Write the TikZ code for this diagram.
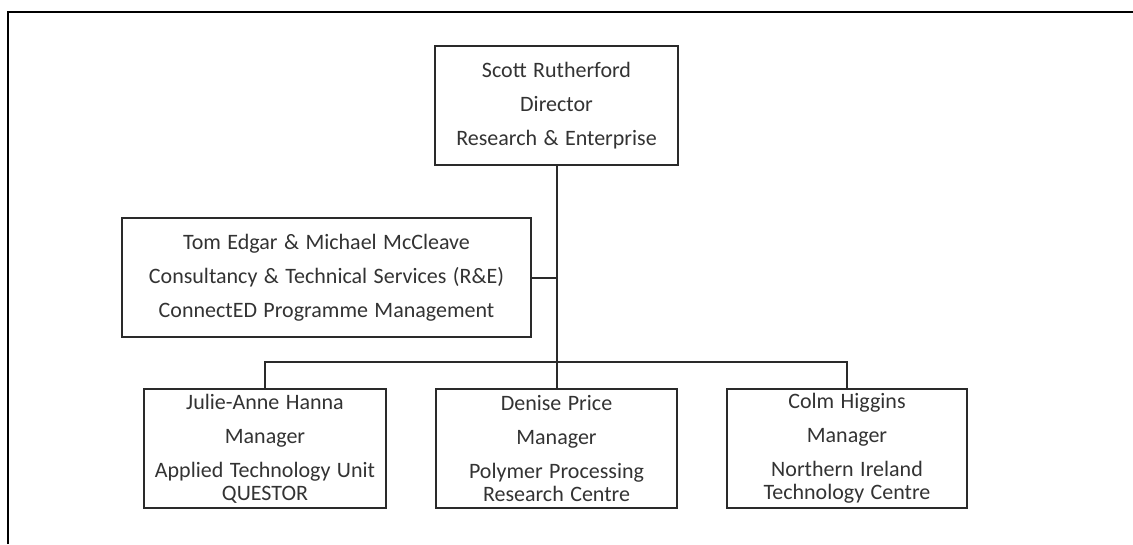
\documentclass[tikz,border=0pt]{standalone}
\usepackage{fontspec}
\setmainfont{Carlito}[WordSpace=1.3]
\definecolor{boxline}{HTML}{2A2A2A}
\definecolor{txt}{HTML}{333333}
\tikzset{
  orgbox/.style={draw=boxline, line width=2pt, fill=white, inner sep=0pt,
    align=center, text=txt, font=\fontsize{22}{34}\selectfont},
  link/.style={draw=boxline, line width=2pt},
  frame/.style={draw=black, line width=2.6pt}
}
\begin{document}
\begin{tikzpicture}[x=1pt,y=-1pt]
\useasboundingbox (0,0) rectangle (1133,544);
\coordinate (fa) at (8,544);
\coordinate (fb) at (8,12);
\coordinate (fc) at (1133,12);
\draw[frame] (fa) -- (fb) -- (fc);
\node[orgbox, minimum width=243pt, minimum height=119pt] (top) at (556.5,105.5)
  {Scott Rutherford\\Director\\Research \& Enterprise};
\node[orgbox, minimum width=409pt, minimum height=119pt] (mid) at (326.5,277.5)
  {Tom Edgar \& Michael McCleave\\Consultancy \& Technical Services (R\&E)\\ConnectED Programme Management};
\node[orgbox, minimum width=242pt, minimum height=119pt] (julie) at (265,448.5)
  {Julie-Anne Hanna\\Manager\\Applied Technology Unit\\[-11pt]QUESTOR};
\node[orgbox, minimum width=241pt, minimum height=119pt] (denise) at (556.5,448.5)
  {Denise Price\\Manager\\Polymer Processing\\[-11pt]Research Centre};
\node[orgbox, minimum width=240pt, minimum height=119pt] (colm) at (847,448.5)
  {Colm Higgins\\Manager\\Northern Ireland\\[-11pt]Technology Centre};
\draw[link] (top.south) -- (denise.north);
\draw[link] (mid.east) -- (mid.east -| top.south);
\draw[link] (julie.north) -- ++(0,-26) -| (colm.north);
\end{tikzpicture}
\end{document}
